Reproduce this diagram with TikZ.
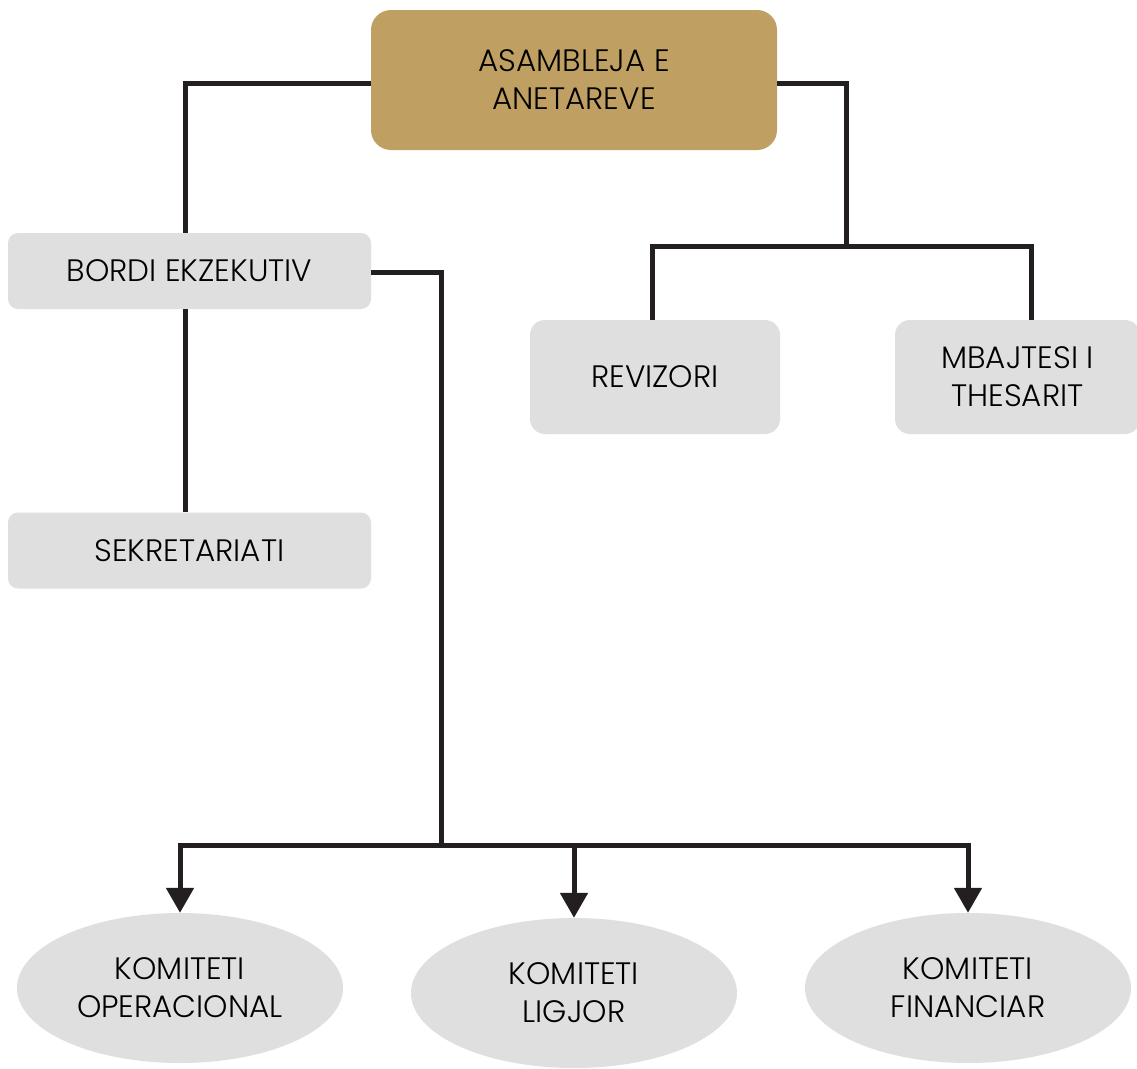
\documentclass[tikz,border=0pt]{standalone}
\usepackage{fontspec}
\IfFontExistsTF{Poppins Light}{\setmainfont{Poppins Light}}{\setmainfont{Poppins}}
\usetikzlibrary{arrows.meta,shapes.geometric}
\definecolor{gold}{HTML}{BFA062}
\definecolor{boxgray}{HTML}{DFDFDF}
\definecolor{ink}{HTML}{231F20}
\begin{document}
\begin{tikzpicture}[x=1pt,y=-1pt,
  lbl/.style={font=\fontsize{31}{38}\selectfont, text=black, align=center, inner sep=0pt},
  goldbox/.style={lbl, fill=gold, rounded corners=20pt, minimum width=406pt, minimum height=140pt},
  graybox/.style={lbl, fill=boxgray, rounded corners=10pt},
  oval/.style={lbl, ellipse, fill=boxgray, minimum width=326pt, minimum height=150pt},
  conn/.style={draw=ink, line width=5pt},
  arr/.style={conn, -{Triangle[width=27pt,length=25pt]}}]
\clip (0,0) rectangle (1137,1068);
\fill[white] (0,0) rectangle (1137,1068);
\node[goldbox] (top) at (574,80) {ASAMBLEJA E\\ANETAREVE};
\node[graybox, minimum width=363pt, minimum height=76pt] (bordi) at (189.5,271) {BORDI EKZEKUTIV};
\node[graybox, minimum width=363pt, minimum height=76pt] (sek) at (189.5,550.5) {SEKRETARIATI};
\node[graybox, minimum width=250pt, minimum height=114pt, rounded corners=15pt] (rev) at (655,377) {REVIZORI};
\node[graybox, minimum width=245pt, minimum height=114pt, rounded corners=15pt] (mb) at (1017.5,377) {MBAJTESI I\\THESARIT};
\node[oval] (op) at (180,988) {KOMITETI\\OPERACIONAL};
\node[oval] (lig) at (574,993) {KOMITETI\\LIGJOR};
\node[oval] (fin) at (968,988) {KOMITETI\\FINANCIAR};
\coordinate (rj) at (846,246);
\coordinate (bj) at (441,845);
\draw[conn] ([yshift=-3pt]top.west) -| ([xshift=-4.5pt]bordi.north);
\draw[conn] ([xshift=-4.5pt]bordi.south) -- ([xshift=-4.5pt]sek.north);
\draw[conn] ([yshift=-3pt]top.east) -| (rj);
\draw[conn] ([xshift=-3pt]rev.north) |- (rj) -| ([xshift=13.5pt]mb.north);
\draw[conn] ([yshift=-1pt]bordi.east) -| (bj);
\draw[arr] (bj) -| (op.north);
\draw[arr] (bj) -| (lig.north);
\draw[arr] (bj) -| (fin.north);
\end{tikzpicture}
\end{document}
